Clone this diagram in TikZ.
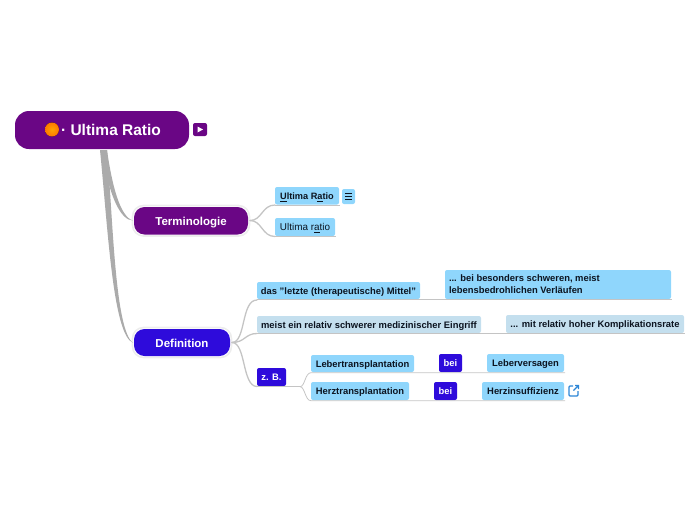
\documentclass[tikz,border=0pt]{standalone}
\usepackage{fontspec}
\setmainfont{Liberation Sans}
\definecolor{purp}{HTML}{6A0685}
\definecolor{blu}{HTML}{2E0BDB}
\definecolor{sky}{HTML}{8FD6FC}
\definecolor{pale}{HTML}{C4DFEE}
\definecolor{ln}{HTML}{C4C4C4}
\definecolor{trunk}{HTML}{ABABAB}
\definecolor{ink}{HTML}{0C1420}
\definecolor{iconb}{HTML}{2D86D6}
\newcommand{\fs}[1]{\fontsize{#1}{#1}\selectfont}
\newcommand{\ul}[1]{\underline{#1}}
\tikzset{
  x=1pt,y=-1pt,
  box/.style={inner sep=0pt,outer sep=0pt,anchor=north west,rounded corners=2pt},
  leaf/.style={box,fill=sky,text=ink,font=\fs{9.4}\bfseries,text height=8pt,text depth=0.4pt},
  lpale/.style={leaf,fill=pale},
  tag/.style={leaf,fill=blu,text=white},
  main/.style={box,rounded corners=10.5pt,text=white,font=\fs{11.5}\bfseries,text height=9.5pt,text depth=0.3pt},
  halo/.style={draw=black!7,line width=1.6pt,rounded corners=11pt},
  under/.style={draw=ln,line width=0.9pt},
  fork/.style={draw=ln,line width=1.3pt,line cap=round},
  thinl/.style={draw=ln,line width=0.8pt},
}
\newcommand{\bx}[7]{\node[#2,minimum width=#5pt-#3pt,minimum height=#6pt-#4pt] (#1) at (#3,#4) {#7};}
\begin{document}
\begin{tikzpicture}
\useasboundingbox (0,0) rectangle (697,520);
% halos
\draw[halo] (132.5,205.5) rectangle (249.5,236);
\draw[halo] (132.5,327.5) rectangle (231.5,357.5);
% nodes
\bx{root}{main,fill=purp,rounded corners=14pt,font=\fs{15.5}\bfseries,text height={},text depth={}}{15}{111}{189}{149}{\hspace*{18pt}· Ultima Ratio}
\bx{term}{main,fill=purp}{134}{207}{248}{234.5}{Terminologie}
\bx{defi}{main,fill=blu}{134}{329}{230}{356}{Definition}
\bx{ur}{leaf,font=\fs{9.2}\bfseries}{275}{187}{339}{204.5}{\ul{U}ltima R\ul{a}tio}
\bx{ur2}{leaf,font=\fs{9.9}}{275}{218}{335}{236}{Ultima r\ul{a}tio}
\bx{das}{leaf}{257}{282}{420}{299}{das "letzte (therapeutische) Mittel"}
\bx{bes}{leaf,text height={},text depth={}}{445}{270}{671}{299}{\parbox{218pt}{\baselineskip=12pt ... bei besonders schweren, meist\\lebensbedrohlichen Verläufen}}
\bx{mei}{lpale}{257}{316}{481}{333}{meist ein relativ schwerer medizinischer Eingriff}
\bx{mit}{lpale}{506}{315}{684}{333}{... mit relativ hoher Komplikationsrate}
\bx{zb}{tag}{257}{368}{286}{386}{z. B.}
\bx{leb}{leaf}{311}{355}{414}{372}{Lebertransplantation}
\bx{herz}{leaf}{311}{382}{409}{400}{Herztransplantation}
\bx{bei}{tag}{439}{354}{462}{372}{bei}
\bx{bei2}{tag}{434}{382}{457}{400}{bei}
\bx{lv}{leaf}{487}{354}{564}{372}{Leberversagen}
\bx{hi}{leaf}{482}{382}{564}{400}{Herzinsuffizienz}
% root icons
\fill[inner color=orange!70!yellow,outer color=orange!95!red] (52,129.5) circle (7);
\node[box,fill=purp,minimum width=14pt,minimum height=13pt] (play) at (193,123) {};
\fill[white] (197.5,126.5) -- (197.5,132.5) -- (203,129.5) -- cycle;
\node[box,fill=sky,minimum width=13pt,minimum height=15pt] (notes) at (342,189) {};
\draw[ink,line width=0.7pt] (345,193.5) -- (352,193.5) (345,196.5) -- (352,196.5) (345,199.5) -- (352,199.5);
\draw[iconb,line width=1.1pt,rounded corners=1pt] (573,386) -- (569,386) -- (569,396) -- (578,396) -- (578,391);
\draw[iconb,line width=1.1pt] (573.5,390.5) -- (578.5,385.5) (575,385.5) -- (578.5,385.5) -- (578.5,389);
% trunks
\fill[trunk] (100,150) -- (107,150) .. controls (112,185) and (120,217) .. (133,220.5) .. controls (120,220.5) and (110,195) .. (103,160) -- cycle;
\fill[trunk] (100,150) -- (107,150) .. controls (113,220) and (115,330) .. (133,342.8) .. controls (113,335) and (108,230) .. (100,150) -- cycle;
% forks
\draw[fork] (250,220.5) .. controls (262,220.5) and (262,205) .. (275,205);
\draw[under] (275,205) -- (340,205);
\draw[fork] (250,220.5) .. controls (262,220.5) and (262,236.5) .. (275,236.5);
\draw[under] (275,236.5) -- (336,236.5);
\draw[fork] (232,342.5) .. controls (246,342.5) and (241,300) .. (257,300);
\draw[fork] (232,342.5) .. controls (245,342.5) and (245,333.5) .. (257,333.5);
\draw[fork] (232,342.5) .. controls (246,342.5) and (242,386.5) .. (257,386.5);
\draw[under] (das.south west)++(0,0.8) -- (671.5,299.8);
\draw[under] (mei.south west)++(0,0.8) -- (684.5,333.8);
\draw[under] (zb.south west)++(0,0.7) -- (300,386.7);
\draw[thinl] (300,386.7) .. controls (305,386.7) and (305,372.7) .. (311,372.7) -- (565,372.7);
\draw[thinl] (300,386.7) .. controls (305,386.7) and (305,400.7) .. (311,400.7) -- (565,400.7);
\end{tikzpicture}
\end{document}
